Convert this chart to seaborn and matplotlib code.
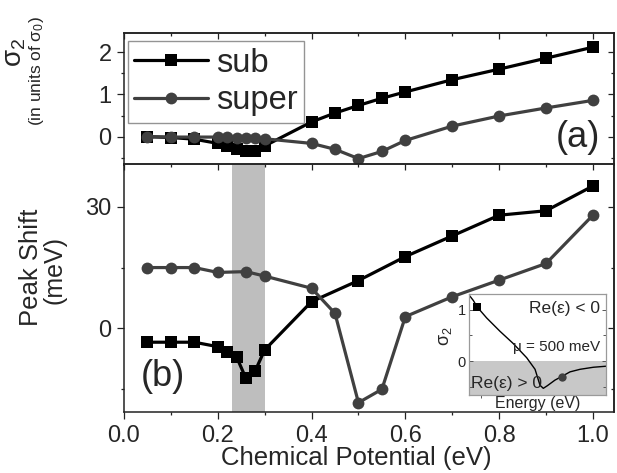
import matplotlib
matplotlib.use("Agg")
import matplotlib.pyplot as plt
from matplotlib.ticker import MultipleLocator, NullFormatter, FormatStrFormatter
import seaborn as sns

# ---- panel (a): imaginary conductivity vs chemical potential ----
mu_a = [0.05, 0.10, 0.15, 0.20, 0.22, 0.24, 0.26, 0.28, 0.30,
        0.40, 0.45, 0.50, 0.55, 0.60, 0.70, 0.80, 0.90, 1.00]
sigma2_sub = [0.00, -0.02, -0.06, -0.16, -0.22, -0.30, -0.35, -0.35, -0.22,
              0.35, 0.56, 0.74, 0.91, 1.06, 1.35, 1.60, 1.86, 2.12]
sigma2_super = [0.00, -0.01, -0.01, -0.01, -0.01, -0.02, -0.02, -0.02, -0.05,
                -0.16, -0.30, -0.52, -0.35, -0.09, 0.25, 0.49, 0.68, 0.86]

# ---- panel (b): plasmon peak shift vs chemical potential ----
mu_b_sub = [0.05, 0.10, 0.15, 0.20, 0.22, 0.24, 0.26, 0.28, 0.30,
            0.40, 0.50, 0.60, 0.70, 0.80, 0.90, 1.00]
shift_sub = [-3.4, -3.4, -3.4, -4.5, -5.9, -7.0, -12.3, -10.4, -5.3,
             6.6, 11.8, 17.7, 22.8, 27.9, 29.0, 35.1]
mu_b_super = [0.05, 0.10, 0.15, 0.20, 0.26, 0.30, 0.40, 0.45, 0.50,
              0.55, 0.60, 0.70, 0.80, 0.90, 1.00]
shift_super = [15.0, 15.0, 15.0, 13.8, 14.0, 12.9, 9.9, 3.7, -18.3,
               -15.0, 2.9, 7.8, 11.9, 16.0, 27.9]

# shaded chemical-potential window
band_lo, band_hi = 0.23, 0.30

# ---- inset: sigma_2 vs energy at mu = 500 meV (arbitrary energy axis) ----
inset_energy = [0.0, 0.035, 0.064, 0.132, 0.229, 0.326, 0.423, 0.484, 0.52,
                0.544, 0.573, 0.629, 0.678, 0.738, 0.811, 0.908, 1.0]
inset_sigma2 = [1.30, 1.18, 1.05, 0.84, 0.58, 0.34, 0.066, -0.16, -0.47,
                -0.53, -0.48, -0.37, -0.30, -0.21, -0.16, -0.12, -0.10]
inset_sub_pt = ([0.064], [1.05])
inset_super_pt = ([0.678], [-0.30])

SUB_C = "#000000"
SUPER_C = "#404040"
BAND_C = "#bebebe"

sns.set_theme(style="ticks")
plt.rcParams["font.family"] = ["Liberation Sans", "DejaVu Sans"]
plt.rcParams["mathtext.fontset"] = "custom"
plt.rcParams["mathtext.rm"] = "Liberation Sans"
plt.rcParams["mathtext.it"] = "Liberation Sans:italic"
plt.rcParams["axes.linewidth"] = 1.1
plt.rcParams["axes.edgecolor"] = "#222222"

W, H = 617, 473
fig = plt.figure(figsize=(W / 100, H / 100), dpi=100)
fig.patch.set_facecolor("white")


def frac_box(x0, y0, x1, y1):
    return [x0 / W, 1 - y1 / H, (x1 - x0) / W, (y1 - y0) / H]


ax_a = fig.add_axes(frac_box(124, 33.3, 614, 164.5))
ax_b = fig.add_axes(frac_box(124, 164.5, 614, 412))

XLIM = (0.0, 1.045)


def style_axes(ax, ymaj, ymin, show_xlabels):
    ax.set_xlim(*XLIM)
    ax.xaxis.set_major_locator(MultipleLocator(0.2))
    ax.xaxis.set_minor_locator(MultipleLocator(0.1))
    ax.yaxis.set_major_locator(MultipleLocator(ymaj))
    ax.yaxis.set_minor_locator(MultipleLocator(ymin))
    ax.tick_params(which="both", direction="out", top=False, right=False,
                   width=0.9, color="#222222", labelsize=17, pad=4)
    ax.tick_params(which="major", length=5)
    ax.tick_params(which="minor", length=2.5)
    ax.tick_params(axis="x", labelbottom=show_xlabels)
    ax.xaxis.set_major_formatter(FormatStrFormatter("%.1f"))
    # inward ticks on the opposite spines
    sx = ax.secondary_xaxis("top")
    sx.xaxis.set_major_locator(MultipleLocator(0.2))
    sx.xaxis.set_minor_locator(MultipleLocator(0.1))
    sx.tick_params(which="both", direction="in", width=0.9, color="#222222",
                   labeltop=False)
    sx.tick_params(which="major", length=4)
    sx.tick_params(which="minor", length=2)
    sy = ax.secondary_yaxis("right")
    sy.yaxis.set_major_locator(MultipleLocator(ymaj))
    sy.yaxis.set_minor_locator(MultipleLocator(ymin))
    sy.tick_params(which="both", direction="in", width=0.9, color="#222222",
                   labelright=False)
    sy.tick_params(which="major", length=4)
    sy.tick_params(which="minor", length=2)
    for s in ax.spines.values():
        s.set_linewidth(1.1)
        s.set_color("#222222")


line_kw = dict(linewidth=2.3, markeredgewidth=0, sort=False, estimator=None)

# ---- panel (a) ----
sns.lineplot(x=mu_a, y=sigma2_sub, ax=ax_a, color=SUB_C, marker="s",
             markersize=8, label="sub", **line_kw)
sns.lineplot(x=mu_a, y=sigma2_super, ax=ax_a, color=SUPER_C, marker="o",
             markersize=8.5, label="super", **line_kw)
ax_a.set_ylim(-0.66, 2.45)
style_axes(ax_a, 1, 0.5, False)
ax_a.set_xlabel("")
ax_a.set_ylabel("")
leg = ax_a.legend(loc="upper left", bbox_to_anchor=(0.008, 0.941),
                  borderaxespad=0, fontsize=23.5, frameon=True, fancybox=False,
                  handlelength=2.25, handletextpad=0.25, borderpad=0.2,
                  labelspacing=0.2, numpoints=1)
leg.get_frame().set_edgecolor("#7a7a7a")
leg.get_frame().set_linewidth(1.0)
ax_a.text(0.971, 0.206, "(a)", transform=ax_a.transAxes, ha="right",
          va="center", fontsize=26)

# ---- panel (b) ----
ax_b.axvspan(band_lo, band_hi, color=BAND_C, lw=0, zorder=0)
sns.lineplot(x=mu_b_sub, y=shift_sub, ax=ax_b, color=SUB_C, marker="s",
             markersize=8, **line_kw)
sns.lineplot(x=mu_b_super, y=shift_super, ax=ax_b, color=SUPER_C, marker="o",
             markersize=8.5, **line_kw)
ax_b.set_ylim(-20.6, 40.4)
style_axes(ax_b, 30, 15, True)
ax_b.set_xlabel("")
ax_b.set_ylabel("")
ax_b.text(0.034, 0.143, "(b)", transform=ax_b.transAxes, ha="left",
          va="center", fontsize=26)

# ---- axis titles ----
fig.text(15 / W, 1 - 52 / H, r"$\mathregular{\sigma_2}$", rotation=90,
         ha="center", va="center", fontsize=20)
fig.text(36 / W, 1 - 71 / H, r"(in units of $\mathregular{\sigma_0}$)",
         rotation=90, ha="center", va="center", fontsize=12.5)
fig.text(31 / W, 1 - 267 / H, "Peak Shift", rotation=90, ha="center",
         va="center", fontsize=18.5)
fig.text(55 / W, 1 - 270 / H, "(meV)", rotation=90, ha="center",
         va="center", fontsize=18)
fig.text(356 / W, 1 - 458 / H, "Chemical Potential (eV)", ha="center",
         va="center", fontsize=18.5)

# ---- inset ----
ax_in = fig.add_axes(frac_box(468.5, 294.3, 606, 395))
ax_in.set_facecolor("white")
ax_in.set_xlim(0, 1)
ax_in.set_ylim(-0.66, 1.30)
ax_in.axhspan(-0.66, 0, color="#c8c8c8", lw=0, zorder=0)
sns.lineplot(x=inset_energy, y=inset_sigma2, ax=ax_in, color="black",
             linewidth=1.0, sort=False, estimator=None)
sns.lineplot(x=inset_sub_pt[0], y=inset_sub_pt[1], ax=ax_in, color=SUB_C,
             marker="s", markersize=5.5, markeredgewidth=0, linewidth=0,
             sort=False, estimator=None)
sns.lineplot(x=inset_super_pt[0], y=inset_super_pt[1], ax=ax_in,
             color=SUPER_C, marker="o", markersize=6, markeredgewidth=0,
             linewidth=0, sort=False, estimator=None)
ax_in.set_xlabel("")
ax_in.set_ylabel("")
ax_in.set_xticks([0.09])
ax_in.xaxis.set_major_formatter(NullFormatter())
ax_in.yaxis.set_major_locator(MultipleLocator(1))
ax_in.yaxis.set_minor_locator(MultipleLocator(0.5))
ax_in.tick_params(axis="y", which="both", direction="in", left=True,
                  right=True, width=0.7, color="#555555", labelsize=10.5, pad=2)
ax_in.tick_params(axis="y", which="major", length=3)
ax_in.tick_params(axis="y", which="minor", length=2)
ax_in.tick_params(axis="x", which="both", direction="out", length=2.5,
                  width=0.7, color="#555555")
for s in ax_in.spines.values():
    s.set_linewidth(0.9)
    s.set_color("#9a9a9a")
ax_in.text(0.957, 0.86, "Re(ε) < 0", transform=ax_in.transAxes, ha="right",
           va="center", fontsize=12.5)
ax_in.text(0.957, 0.48, "μ = 500 meV", transform=ax_in.transAxes, ha="right",
           va="center", fontsize=11)
ax_in.text(0.02, 0.115, "Re(ε) > 0", transform=ax_in.transAxes, ha="left",
           va="center", fontsize=12.5)
ax_in.text(0.5, -0.08, "Energy (eV)", transform=ax_in.transAxes, ha="center",
           va="center", fontsize=11.5)
ax_in.text(-0.17, 0.585, r"$\mathregular{\sigma_2}$", transform=ax_in.transAxes,
           rotation=90, ha="center", va="center", fontsize=13)

fig.savefig("out.png", dpi=100, facecolor="white")
